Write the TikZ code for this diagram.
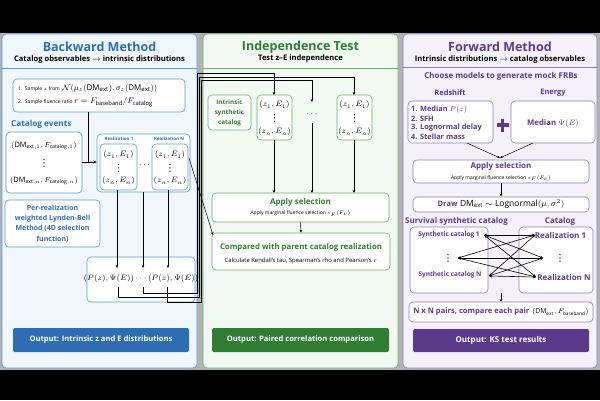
\RequirePackage{fix-cm}
\documentclass[tikz,border=0pt]{standalone}
\usepackage{fontspec}
\setmainfont{Open Sans}
\newfontfamily\symf{DejaVu Sans}
\usetikzlibrary{arrows.meta}
\definecolor{bT}{HTML}{2E6DB4}
\definecolor{bB}{HTML}{5B9BD5}
\definecolor{bF}{HTML}{EFF6FC}
\definecolor{gT}{HTML}{2E7D32}
\definecolor{gB}{HTML}{6AAF6A}
\definecolor{gF}{HTML}{F2F8F2}
\definecolor{pT}{HTML}{5B3A8C}
\definecolor{pB}{HTML}{8E7CC3}
\definecolor{pF}{HTML}{F4F1F9}
\newcommand{\myfs}[2]{\fontsize{#1}{#2}\selectfont}
\newcommand{\dmx}{\mathrm{DM}_{\mathrm{ext}}}
\newcommand{\myvd}{{\symf ⋮}}
\tikzset{
  panel/.style={rounded corners=4pt, line width=0.8pt, inner sep=0pt},
  ibox/.style={draw, fill=white, rounded corners=4pt, line width=0.6pt, inner sep=0pt},
  obox/.style={rounded corners=2pt, inner sep=0pt, text=white, font=\bfseries\myfs{7.6}{9}},
  ttl/.style={font=\bfseries\myfs{12.5}{14}, inner sep=0pt},
  sub/.style={font=\bfseries\myfs{7.6}{9}, inner sep=0pt},
  txt/.style={inner sep=0pt},
  zE/.style={inner sep=0pt, font=\myfs{7.8}{9}},
  vdt/.style={inner sep=0pt, font=\myfs{10}{10}},
  arr/.style={-{Stealth[length=3pt,width=2.6pt]}, line width=0.5pt, black},
  biarr/.style={{Stealth[length=3pt,width=2.6pt]}-{Stealth[length=3pt,width=2.6pt]}, line width=0.6pt, black},
  ln/.style={line width=0.5pt, black},
}
\begin{document}
\begin{tikzpicture}[x=1pt,y=-1pt]
\useasboundingbox (0,0) rectangle (600,400);
\fill[black] (0,0) rectangle (600,400);
\fill[gray!60] (0,33) rectangle (600,370);
% ---------- panels
\node[panel, draw=bB, fill=bF, minimum width=195pt, minimum height=334pt] (panB) at (99.5,201) {};
\node[panel, draw=gB, fill=gF, minimum width=195pt, minimum height=334pt] (panI) at (300.5,201) {};
\node[panel, draw=pB, fill=pF, minimum width=194pt, minimum height=334pt] (panF) at (500,201) {};
\draw[bB, line width=0.6pt] (2.4,68) -- (196.6,68);
\draw[gB, line width=1pt] (203.4,68) -- (397.6,68);
\draw[pB, line width=1pt] (403.4,67) -- (596.6,67);
% ---------- Backward
\node[ttl, text=bT] (tB) at (99.5,47) {Backward Method};
\node[sub] (sB) at (99.5,59.5) {Catalog observables $\rightarrow$ intrinsic distributions};
\node[ibox, draw=bB, minimum width=172pt, minimum height=33pt] (samp) at (99,95.5) {};
\node[txt, anchor=west] (s1) at (18,88) {\myfs{5}{6}1.\ \ Sample $z$ from\ \ \myfs{8}{10}$\mathcal{N}(\mu_z(\dmx),\sigma_z(\dmx))$};
\node[txt, anchor=west] (s2) at (18,102) {\myfs{5}{6}2.\ \ Sample fluence ratio \myfs{8.3}{10}$r=F_{\mathrm{baseband}}/F_{\mathrm{catalog}}$};
\node[txt, anchor=west, text=bT, font=\bfseries\myfs{8.2}{10}] (ce) at (11,124) {Catalog events};
\node[ibox, draw=bB, minimum width=76pt, minimum height=61pt] (cat) at (44,162.5) {};
\node[txt] (c1) at (44,146) {\myfs{7.4}{9}$(\mathrm{DM}_{\mathrm{ext},1},F_{\mathrm{catalog},1})$};
\node[vdt] (cv) at (44,163) {\myvd};
\node[txt] (cn) at (44,181) {\myfs{7.4}{9}$(\mathrm{DM}_{\mathrm{ext},n},F_{\mathrm{catalog},n})$};
\node[ibox, draw=bB, minimum width=93pt, minimum height=58pt] (ro) at (143.5,163) {};
\node[txt, text=bT, font=\bfseries\myfs{4.5}{5}] (rl1) at (119,139) {Realization 1};
\node[txt, text=bT, font=\bfseries\myfs{4.5}{5}] (rlN) at (169,139) {Realization N};
\node[ibox, draw=bB, minimum width=37pt, minimum height=46pt] (r1) at (118.5,167) {};
\node[ibox, draw=bB, minimum width=36pt, minimum height=46pt] (rN) at (170,167) {};
\node[zE] (r1a) at (118.5,155) {$(z_1,E_1)$};
\node[vdt] (r1b) at (118.5,168) {\myvd};
\node[zE] (r1c) at (118.5,181) {$(z_n,E_n)$};
\node[zE] (rNa) at (170,155) {$(z_1,E_1)$};
\node[vdt] (rNb) at (170,168) {\myvd};
\node[zE] (rNc) at (170,181) {$(z_n,E_n)$};
\node[txt] (rdots) at (144.5,165) {\myfs{9}{10}$\cdots$};
\node[ibox, draw=bB, minimum width=95pt, minimum height=47pt, text=bT, font=\bfseries\myfs{7}{10.3}, align=center] (lb) at (52.5,223.5) {Per-realization\\weighted Lynden-Bell\\Method (4D selection\\function)};
\node[ibox, draw=bB, minimum width=108pt, minimum height=45pt] (pb) at (141,279.5) {};
\node[txt] (pbt) at (141,279) {\myfs{7.8}{10}$(P(z),\Psi(E))\cdots(P(z),\Psi(E))$};
\node[obox, fill=bT, minimum width=176pt, minimum height=24pt] (oB) at (101,340) {Output: Intrinsic z and E distributions};
% left connectors
\coordinate (j1) at (88,162);
\draw[ln] (samp.south -| j1) -- (j1);
\draw[arr] (cat.east |- j1) -- (ro.west |- j1);
\coordinate (p1) at (117,268);
\coordinate (p2) at (143,268);
\coordinate (p3) at (168,268);
\draw[arr] (117,190) -- (p1);
\draw[arr] (143,192) -- (p2);
\draw[arr] (168,190) -- (p3);
\coordinate (q1) at (118,287);
\coordinate (q2) at (143,287);
\coordinate (q3) at (167,287);
% ---------- Independence
\node[ttl, text=gT] (tI) at (300.5,47) {Independence Test};
\node[sub] (sI) at (300.5,58.5) {Test z\textendash E independence};
\node[ibox, draw=gB, minimum width=43pt, minimum height=35pt, text=gT, font=\bfseries\myfs{6.3}{10}, align=center] (isc) at (229.5,112.5) {Intrinsic\\synthetic\\catalog};
\node[ibox, draw=gB, minimum width=35pt, minimum height=45pt] (m1) at (274.5,117.5) {};
\node[ibox, draw=gB, minimum width=35pt, minimum height=45pt] (m3) at (354.5,117.5) {};
\node[zE] (m1a) at (274.5,105) {$(z_1,E_1)$};
\node[vdt] (m1b) at (274.5,118.5) {\myvd};
\node[zE] (m1c) at (274.5,132) {$(z_n,E_n)$};
\node[zE] (m3a) at (354.5,105) {$(z_1,E_1)$};
\node[vdt] (m3b) at (354.5,118.5) {\myvd};
\node[zE] (m3c) at (354.5,132) {$(z_n,E_n)$};
\node[txt] (mdots) at (312,114) {\myfs{9}{10}$\cdots$};
\node[ibox, draw=gB, minimum width=177pt, minimum height=29pt] (as) at (300.5,207.5) {};
\node[txt, text=gT, font=\bfseries\myfs{8}{10}] (ast) at (300.5,202) {Apply selection};
\node[txt] (ass) at (300.5,213.5) {\myfs{5}{6}Apply marginal fluence selection $s_F(F_\nu)$};
\node[ibox, draw=gB, minimum width=178pt, minimum height=37pt] (cp) at (301,251.5) {};
\node[txt, text=gT, font=\bfseries\myfs{7.8}{10}] (cpt) at (301,247) {Compared with parent catalog realization};
\node[txt] (cps) at (301,261) {\myfs{5.9}{7}Calculate Kendall's tau, Spearman's rho and Pearson's $r$};
\node[obox, fill=gT, minimum width=177pt, minimum height=24pt] (oI) at (300.5,340) {Output: Paired correlation comparison};
\draw[arr] (274,140) -- (274,193);
\draw[arr] (312,123) -- (312,193);
\draw[arr] (354,140) -- (354,193);
\draw[arr] (as.south) -- (cp.north);
\coordinate (dg) at (189,158);
\draw[arr] (dg) -- (213,235);
% feedback lines from P box to middle panel
\draw[arr] (q2) -- (143,293) -- (197.5,293) -- (197.5,73) -- (274,73) -- (274,95);
\draw[arr] (q1) -- (118,297) -- (199.5,297) -- (199.5,77) -- (354,77) -- (354,95);
\draw[arr] (q3) -- (167,302) -- (201.5,302) -- (201.5,80) -- (312,80) -- (312,102);
% ---------- Forward
\node[ttl, text=pT] (tF) at (500,47) {Forward Method};
\node[sub] (sF) at (500,59.5) {Intrinsic distributions $\rightarrow$ catalog observables};
\node[txt, text=pT, font=\bfseries\myfs{8}{9}] (cm) at (501,76) {Choose models to generate mock FRBs};
\node[txt, text=pT, font=\bfseries\myfs{7.5}{9}] (lr) at (450,93) {Redshift};
\node[txt, text=pT, font=\bfseries\myfs{7.5}{9}] (le) at (553,93) {Energy};
\node[ibox, draw=pB, minimum width=85pt, minimum height=42pt] (zb) at (450.5,122) {};
\node[txt, anchor=west, text=pT, font=\bfseries\myfs{7.4}{9}] (z1) at (411,110) {1. Median $P(z)$};
\node[txt, anchor=west, text=pT, font=\bfseries\myfs{7.4}{9}] (z2) at (411,119) {2. SFH};
\node[txt, anchor=west, text=pT, font=\bfseries\myfs{7.4}{9}] (z3) at (411,128) {3. Lognormal delay};
\node[txt, anchor=west, text=pT, font=\bfseries\myfs{7.4}{9}] (z4) at (411,137) {4. Stellar mass};
\draw[pT, line width=3.6pt] (496.5,125) -- (508.5,125) (502.5,118.5) -- (502.5,131.5);
\node[ibox, draw=pB, minimum width=84pt, minimum height=42pt] (eb) at (553,122) {};
\node[txt, text=pT, font=\bfseries\myfs{7.8}{9}] (ebt) at (553,124) {Median $\Psi(E)$};
\node[ibox, draw=pB, minimum width=176pt, minimum height=23pt] (fa) at (501,171.5) {};
\node[txt, text=pT, font=\bfseries\myfs{8}{10}] (fat) at (501,166.5) {Apply selection};
\node[txt] (fas) at (501,178) {\myfs{5}{6}Apply marginal fluence selection $s_F(F_\nu)$};
\coordinate (mg) at (500,158);
\draw[arr] (467,143) -- (mg);
\draw[arr] (533,143) -- (mg);
\draw[arr] (fa.south) -- (501,196.5);
\node[ibox, draw=pB, minimum width=176pt, minimum height=15pt] (fd) at (501,204.5) {};
\node[txt] (fdt) at (501,204.5) {\textcolor{pT}{\bfseries\myfs{7.5}{9}Draw} \myfs{8.5}{10}$\dmx\sim\mathrm{Lognormal}(\mu,\sigma^2)$};
\node[txt, text=pT, font=\bfseries\myfs{8}{9}] (ls) at (456.5,221) {Survival synthetic catalog};
\node[txt, text=pT, font=\bfseries\myfs{8}{9}] (lc) at (560,221) {Catalog};
\node[ibox, draw=pB, minimum width=78pt, minimum height=66pt] (sb) at (449,260) {};
\node[ibox, draw=pB, minimum width=74pt, minimum height=66pt] (cb) at (556,260) {};
\node[txt, text=pT, font=\bfseries\myfs{6.5}{7}] (sc1) at (449,235) {Synthetic catalog 1};
\node[vdt] (scv) at (448,258) {\myvd};
\node[txt, text=pT, font=\bfseries\myfs{6.5}{7}] (scN) at (450,275) {Synthetic catalog N};
\node[txt, text=pT, font=\bfseries\myfs{8}{9}] (re1) at (560.5,235) {Realization 1};
\node[vdt] (rev) at (560,258) {\myvd};
\node[txt, text=pT, font=\bfseries\myfs{8}{9}] (reN) at (564,277) {Realization N};
\coordinate (L1) at (484,235);
\coordinate (L2) at (458,258);
\coordinate (L3) at (489,276);
\coordinate (R1) at (535,235);
\coordinate (R2) at (543,258);
\coordinate (R3) at (536,277);
\foreach \a in {L1,L2,L3} \foreach \b in {R1,R2,R3} \draw[biarr] (\a) -- (\b);
\draw[arr] (501,293) -- (501,302);
\node[ibox, draw=pB, minimum width=184pt, minimum height=20pt] (nn) at (501,312) {};
\node[txt] (nnt) at (501,312) {\textcolor{pT}{\bfseries\myfs{7.6}{9}N x N pairs, compare each pair} \myfs{6.8}{8}$(\dmx,F_{\mathrm{baseband}})$};
\node[obox, fill=pT, minimum width=176pt, minimum height=23pt, font=\bfseries\myfs{8}{9}] (oF) at (501,340.5) {Output: KS test results};
\end{tikzpicture}
\end{document}
